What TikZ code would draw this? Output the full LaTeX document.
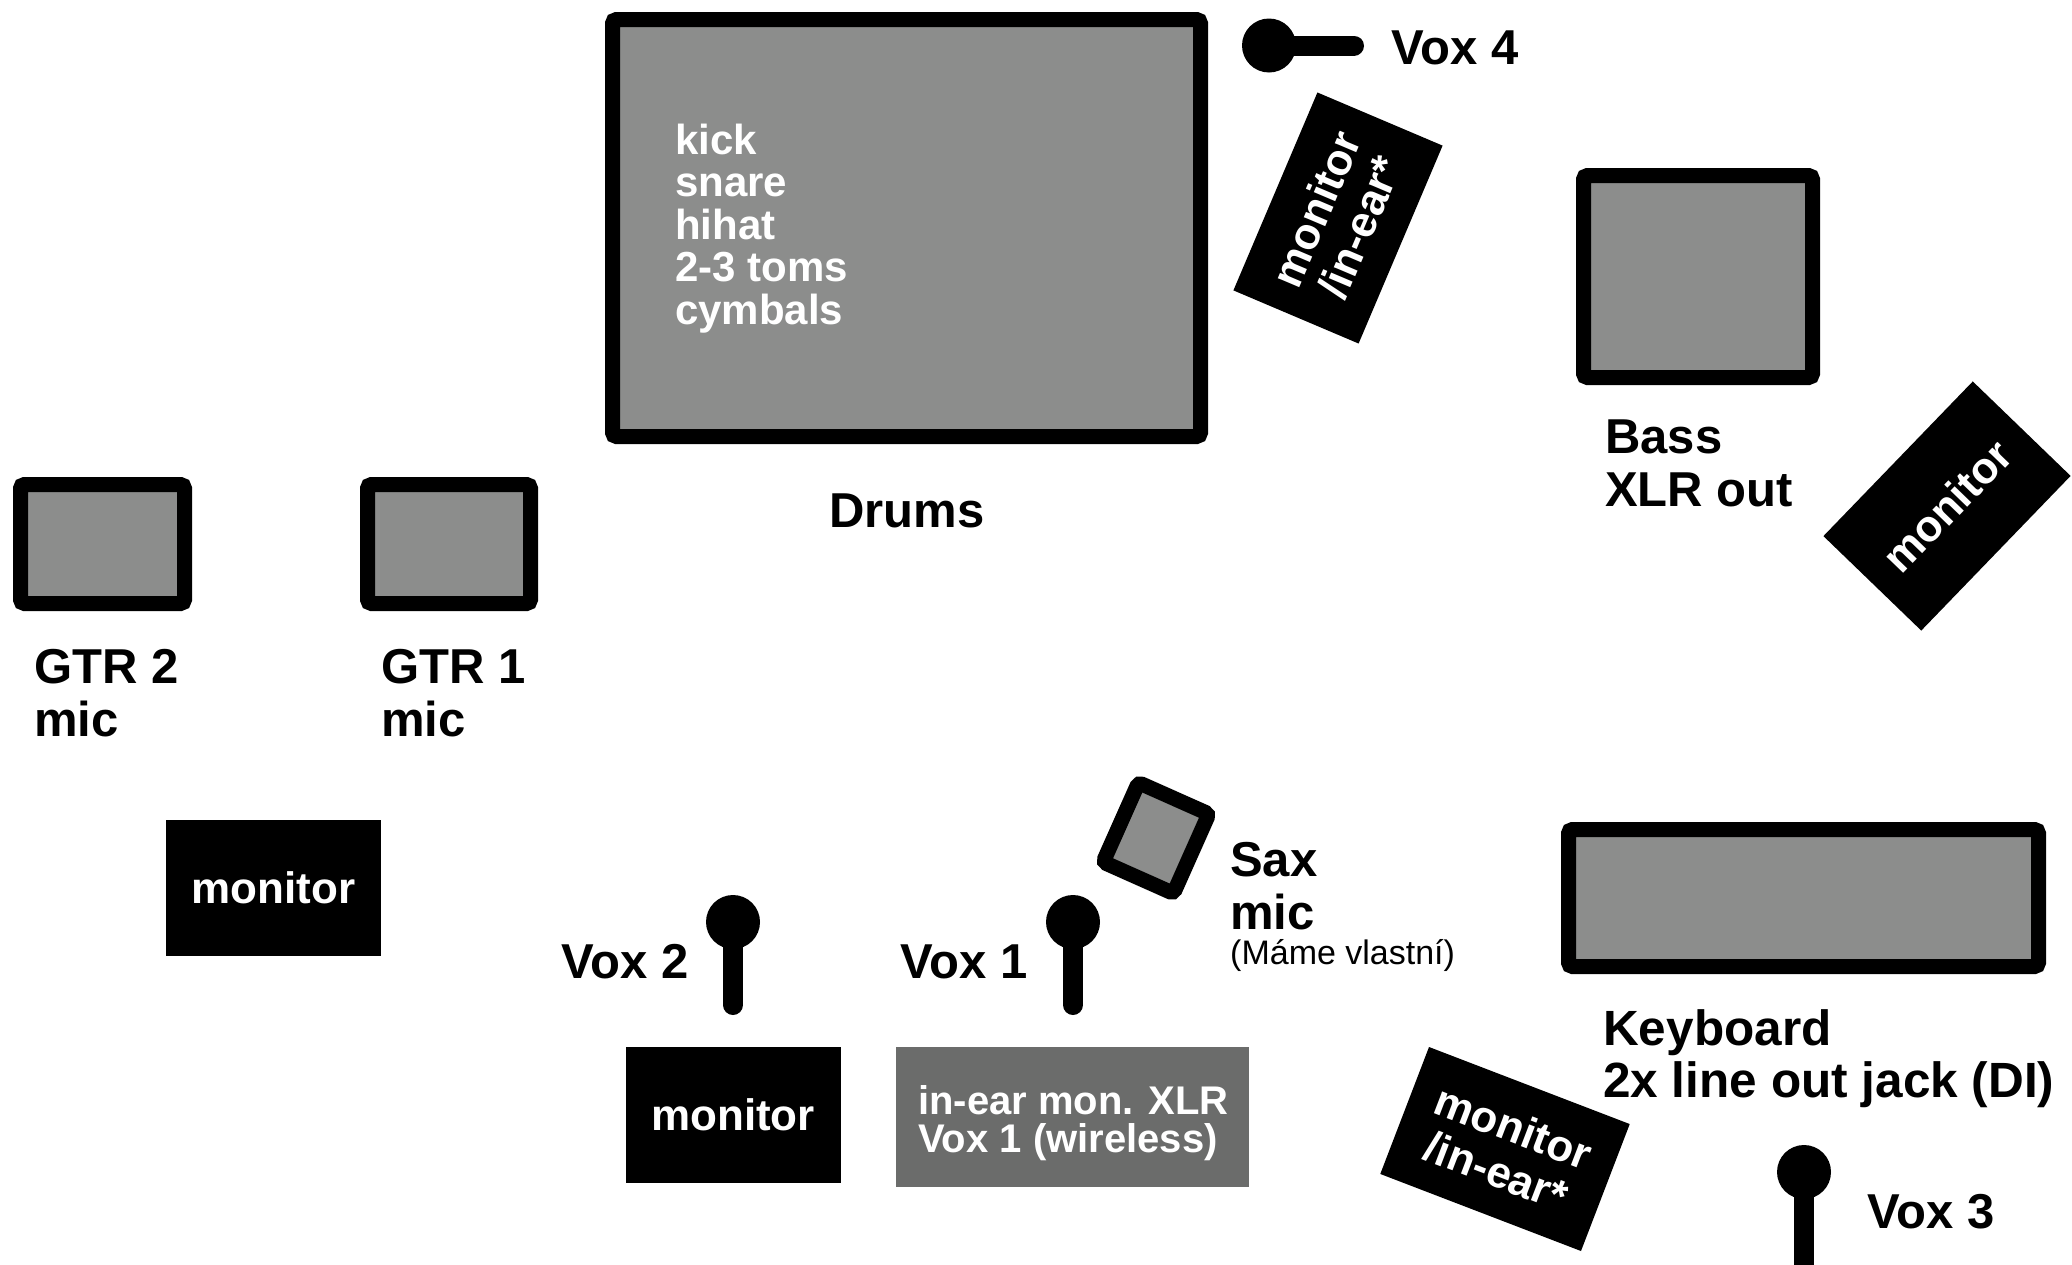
\documentclass[tikz,border=0pt]{standalone}
\usepackage{fontspec}
\setmainfont{Liberation Sans}
\definecolor{boxgray}{RGB}{140,141,140}
\definecolor{ingray}{RGB}{107,108,107}
\newcommand\lbltext{\fontsize{49}{53}\selectfont\bfseries}
\newcommand\keystext{\fontsize{49.5}{52}\selectfont\bfseries}
\newcommand\montext{\fontsize{44}{47}\selectfont\bfseries}
\newcommand\drumtext{\fontsize{42}{42.5}\selectfont\bfseries}
\newcommand\inetext{\fontsize{40}{38}\selectfont\bfseries}
\newcommand\smalltext{\fontsize{34}{36}\selectfont}
\tikzset{
  amp/.style={draw=black, fill=boxgray, line width=15pt, rounded corners=4pt, inner sep=0pt, outer sep=0pt},
  mon/.style={fill=black, text=white, inner sep=0pt, minimum width=215pt, minimum height=136pt, align=center, font=\montext},
  lbl/.style={anchor=base west, inner sep=0pt, align=left, font=\lbltext},
  michead/.style={circle, fill=black, minimum size=54pt, inner sep=0pt},
  micstem/.style={line width=20pt, line cap=round},
}
\begin{document}
\begin{tikzpicture}[x=1pt, y=-1pt]
\useasboundingbox (0,0) rectangle (2072,1264);
\clip (0,0) rectangle (2072,1264);
% drums (multi-line nodes are anchored at the baseline of their last line)
\node[amp, minimum width=588pt, minimum height=417pt] (drums) at (906.5,228) {};
\node[anchor=base west, inner sep=0pt, align=left, text=white, font=\drumtext] (drumlist) at (675,324) {kick\\snare\\hihat\\2-3 toms\\cymbals};
\node[lbl] (drumslbl) at (829,527) {Drums};
% vox 4
\node[michead] (v4head) at (1269,45.5) {};
\coordinate (v4end) at (1354,45.5);
\draw[micstem] (v4head.center) -- (v4end);
\node[lbl] (v4lbl) at (1391,64) {Vox 4};
% monitors
\node[mon, rotate=67] (montop) at (1338,218) {monitor\\/in-ear*};
\node[mon, rotate=46] (monright) at (1947,506) {monitor};
\node[mon] (monleft) at (273.5,888) {monitor};
\node[mon] (monvox2) at (733,1115) {monitor};
\node[mon, rotate=-21] (monbottom) at (1505,1149) {monitor\\/in-ear*};
\node[fill=ingray, inner sep=0pt, minimum width=353pt, minimum height=140pt] (inear) at (1072.5,1117) {};
\node[anchor=base west, inner sep=0pt, align=left, text=white, font=\inetext] (inearlbl) at (918,1152) {in-ear mon. XLR\\Vox 1 (wireless)};
% bass
\node[amp, minimum width=229pt, minimum height=202pt] (bass) at (1698,276.5) {};
\node[lbl] (basslbl) at (1605,506) {Bass\\XLR out};
% guitars
\node[amp, minimum width=164pt, minimum height=119pt] (gtr2) at (102.5,544) {};
\node[lbl] (gtr2lbl) at (34,736) {GTR 2\\mic};
\node[amp, minimum width=163pt, minimum height=119pt] (gtr1) at (449,544) {};
\node[lbl] (gtr1lbl) at (381,736) {GTR 1\\mic};
% sax
\node[amp, rotate=-24, minimum width=77pt, minimum height=87pt] (sax) at (1156,838) {};
\node[lbl] (saxlbl) at (1230,929) {Sax\\mic};
\node[anchor=base west, inner sep=0pt, font=\smalltext] (saxnote) at (1230,964) {(Máme vlastní)};
% vox 2, vox 1
\node[michead] (v2head) at (733,922) {};
\coordinate (v2end) at (733,1005);
\draw[micstem] (v2head.center) -- (v2end);
\node[lbl] (v2lbl) at (561,978) {Vox 2};
\node[michead] (v1head) at (1073,922) {};
\coordinate (v1end) at (1073,1005);
\draw[micstem] (v1head.center) -- (v1end);
\node[lbl] (v1lbl) at (900,978) {Vox 1};
% keyboard
\node[amp, minimum width=470pt, minimum height=137pt] (keys) at (1803.5,898) {};
\node[anchor=base west, inner sep=0pt, align=left, font=\keystext] (keyslbl) at (1603,1097) {Keyboard\\2x line out jack (DI)};
% vox 3
\node[michead] (v3head) at (1804,1172) {};
\coordinate (v3end) at (1804,1300);
\draw[micstem] (v3head.center) -- (v3end);
\node[lbl] (v3lbl) at (1867,1228) {Vox 3};
\end{tikzpicture}
\end{document}
